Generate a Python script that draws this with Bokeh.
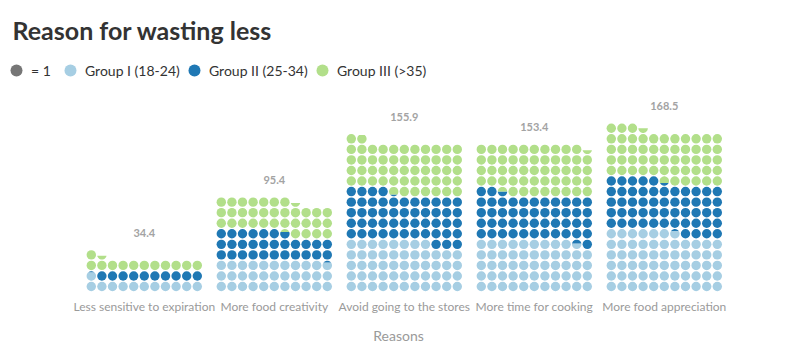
import math
from bokeh.plotting import figure
from bokeh.models import ColumnDataSource, FixedTicker, Legend, LegendItem, Title, Range1d
from bokeh.core.properties import value
from bokeh.embed import file_html
from bokeh.resources import INLINE

# ---------------- data ----------------
categories = ["Less sensitive to expiration", "More food creativity",
              "Avoid going to the stores", "More time for cooking",
              "More food appreciation"]
group_names = ["Group I (18-24)", "Group II (25-34)", "Group III (>35)"]
group1 = [11.9, 32.8, 52.0, 53.6, 61.8]
group2 = [10.1, 28.9, 51.2, 47.9, 53.5]
group3 = [12.4, 33.7, 52.7, 51.9, 53.2]
totals = [34.4, 95.4, 155.9, 153.4, 168.5]
unit_label = "= 1"

# ---------------- style / layout ----------------
colors = ["#a6cee3", "#1f78b4", "#b2df8a"]
unit_color = "#767676"
FONT = "Lato"
COLS = 11
X_PX = 10.6          # px per dot column
Y_PX = 10.55         # px per dot row
CAT_GAP = 130 / X_PX
FIRST_CENTER_PX = 143.8
W, H = 796, 353
TOP, BOTTOM = 50, 61
FRAME_H = H - TOP - BOTTOM
DOT_PX = 9.4
RX = (DOT_PX / 2) / X_PX
RY = (DOT_PX / 2) / Y_PX
BASE_PX = 291.3      # canvas y of value 0
LEG_GLYPH = 30       # legend marker drawn at 0.4 of this
LEG_DOT_X = [16, 70, 194, 322]   # legend marker centres (px)

x_start = -FIRST_CENTER_PX / X_PX
x_end = x_start + W / X_PX
y_start = -((H - BOTTOM) - BASE_PX) / Y_PX
y_end = y_start + FRAME_H / Y_PX

p = figure(width=W, height=H, output_backend="svg", toolbar_location=None,
           x_range=Range1d(x_start, x_end), y_range=Range1d(y_start, y_end),
           min_border_left=0, min_border_right=0,
           min_border_top=TOP, min_border_bottom=BOTTOM)
p.outline_line_color = None
p.grid.visible = False
p.yaxis.visible = False
p.background_fill_color = "white"
p.border_fill_color = "white"

p.add_layout(Title(text="Reason for wasting less", align="left", offset=12,
                   text_font=FONT, text_font_size="25px", text_font_style="bold",
                   text_color="#333333", standoff=11), "above")


def band(cx, cy, a, b, n=20):
    ta = math.asin(max(-1.0, min(1.0, 2 * a - 1)))
    tb = math.asin(max(-1.0, min(1.0, 2 * b - 1)))
    ts = [ta + (tb - ta) * j / n for j in range(n + 1)]
    xs = [cx + RX * math.cos(t) for t in ts] + [cx - RX * math.cos(t) for t in reversed(ts)]
    ys = [cy + RY * math.sin(t) for t in ts] + [cy + RY * math.sin(t) for t in reversed(ts)]
    return xs, ys


full = [dict(x=[], y=[]) for _ in range(3)]
part = dict(xs=[], ys=[], color=[])
groups = list(zip(group1, group2, group3))
for i, gv in enumerate(groups):
    bounds = [0.0]
    for v in gv:
        bounds.append(round(bounds[-1] + v, 6))
    ndots = math.ceil(bounds[-1] - 1e-9)
    for k in range(ndots):
        row, col = divmod(k, COLS)
        cx = i * CAT_GAP + col - (COLS - 1) / 2
        cy = row + 0.5
        for g in range(3):
            lo = max(k, bounds[g])
            hi = min(k + 1, bounds[g + 1])
            if hi - lo <= 1e-6:
                continue
            if hi - lo >= 1 - 1e-6:
                full[g]["x"].append(cx)
                full[g]["y"].append(cy)
            else:
                xs, ys = band(cx, cy, lo - k, hi - k)
                part["xs"].append(xs)
                part["ys"].append(ys)
                part["color"].append(colors[g])

renderers = []
for g in range(3):
    r = p.scatter(x="x", y="y", source=ColumnDataSource(full[g]), size=DOT_PX,
                  fill_color=colors[g], line_color=None)
    renderers.append(r)
p.patches(xs="xs", ys="ys", source=ColumnDataSource(part), fill_color="color",
          line_color=None)

# legend-only marker for the unit ("= 1"); its single point is NaN so nothing is plotted
unit_r = p.scatter(x=[float("nan")], y=[float("nan")], size=DOT_PX,
                   fill_color=unit_color, line_color=None)

# total labels
lab = ColumnDataSource(dict(
    x=[i * CAT_GAP for i in range(len(categories))],
    y=[math.ceil(t / COLS) + 1.6 for t in totals],
    t=["%.1f" % t for t in totals]))
p.text(x="x", y="y", text="t", source=lab, text_align="center", text_baseline="middle",
       text_font=value(FONT), text_font_size="11px", text_font_style="bold",
       text_color="#a3a3a3")

# x axis
p.xaxis.ticker = FixedTicker(ticks=[i * CAT_GAP for i in range(len(categories))])
p.xaxis.major_label_overrides = {i * CAT_GAP: c for i, c in enumerate(categories)}
p.xaxis.axis_line_color = None
p.xaxis.major_tick_line_color = None
p.xaxis.minor_tick_line_color = None
p.xaxis.major_label_text_font = FONT
p.xaxis.major_label_text_font_size = "12px"
p.xaxis.major_label_text_color = "#9a9a9a"
p.xaxis.major_label_standoff = 0
p.xaxis.axis_label = "Reasons"
p.xaxis.axis_label_text_font = FONT
p.xaxis.axis_label_text_font_size = "14px"
p.xaxis.axis_label_text_font_style = "normal"
p.xaxis.axis_label_text_color = "#9a9a9a"
p.xaxis.axis_label_standoff = 10

# legends: one per item so each can be placed (location = bottom-left, px from frame bottom-left)
LEG_Y = FRAME_H - 20 - LEG_GLYPH // 2
common = dict(orientation="horizontal", glyph_width=LEG_GLYPH, glyph_height=LEG_GLYPH,
              label_standoff=0, padding=0, margin=0, spacing=0,
              border_line_color=None, background_fill_alpha=0,
              label_text_font=FONT, label_text_font_size="14px",
              label_text_color="#333333")
leg_labels = [unit_label] + group_names
leg_renderers = [unit_r] + renderers
for lx, lbl, rr in zip(LEG_DOT_X, leg_labels, leg_renderers):
    p.add_layout(Legend(items=[LegendItem(label=lbl, renderers=[rr])],
                        location=(lx - LEG_GLYPH // 2, LEG_Y), **common), "center")

open("out.html", "w").write(file_html(p, INLINE))
